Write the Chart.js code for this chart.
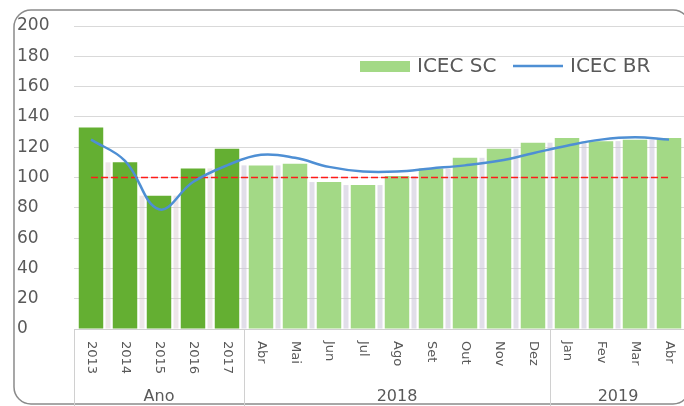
<!DOCTYPE html>
<html>
<head>
<meta charset="utf-8">
<script src="https://cdn.jsdelivr.net/npm/chart.js@4.4.1/dist/chart.umd.min.js"></script>
<style>
  html, body { margin: 0; padding: 0; background: #fff; overflow: hidden; }
  #wrap { width: 700px; height: 406px; position: relative; }
</style>
</head>
<body>
<div id="wrap"><canvas id="chart"></canvas></div>
<script>
// categories (first level) and their groups (second level)
const categorias = ["2013", "2014", "2015", "2016", "2017",
  "Abr", "Mai", "Jun", "Jul", "Ago", "Set", "Out", "Nov", "Dez",
  "Jan", "Fev", "Mar", "Abr"];
const grupos = ["Ano", "Ano", "Ano", "Ano", "Ano",
  "2018", "2018", "2018", "2018", "2018", "2018", "2018", "2018", "2018",
  "2019", "2019", "2019", "2019"];

const icecSC = [133, 110, 88, 106, 119, 108, 109, 97, 95, 101, 106, 113, 119, 123, 126, 124, 125, 126];
const icecBR = [125, 111, 79, 97, 108, 115, 113, 107, 104, 104, 106, 108, 111, 116, 121, 125, 126.5, 125];
const referencia = [100, 100, 100, 100, 100, 100, 100, 100, 100, 100, 100, 100, 100, 100, 100, 100, 100, 100];

const corAno = "#64AF32";
const corMes = "#A3D986";
const corBR = "#4E8FD4";
const corRef = "#FF1A1A";
const corTexto = "#595959";
const fonte = "DejaVu Sans";

// rounded frame around the whole chart
const moldura = {
  id: "moldura",
  beforeDraw(chart) {
    const ctx = chart.ctx;
    ctx.save();
    ctx.fillStyle = "#fff";
    ctx.fillRect(0, 0, chart.width, chart.height);
    ctx.strokeStyle = "#8a8a8a";
    ctx.lineWidth = 1.5;
    ctx.beginPath();
    ctx.roundRect(14, 10, 676, 394, 17);
    ctx.stroke();
    ctx.restore();
  }
};

// soft grey strip between neighbouring bars
const vaos = {
  id: "vaos",
  beforeDatasetsDraw(chart) {
    const meta = chart.getDatasetMeta(0);
    const ctx = chart.ctx;
    ctx.save();
    for (let i = 0; i < meta.data.length - 1; i++) {
      const a = meta.data[i], b = meta.data[i + 1];
      const x = (a.x + b.x) / 2;
      const topo = Math.max(a.y, b.y);
      ctx.fillStyle = grupos[i + 1] === "Ano" ? "rgba(215,200,205,0.45)" : "rgba(200,195,215,0.55)";
      ctx.fillRect(x - 2.5, topo, 5, a.base - topo);
    }
    ctx.restore();
  }
};

// two-level category axis drawn under the plot
const eixoX = {
  id: "eixoX",
  afterDraw(chart) {
    const ctx = chart.ctx;
    const xs = chart.scales.x;
    const area = chart.chartArea;
    const meio = (xs.getPixelForValue(1) - xs.getPixelForValue(0)) / 2;
    ctx.save();
    ctx.strokeStyle = "#d0d0d0";
    ctx.lineWidth = 1;
    ctx.beginPath();
    ctx.moveTo(area.left, area.bottom + 0.5);
    ctx.lineTo(area.right, area.bottom + 0.5);
    ctx.stroke();

    // month / year labels, reading downward
    ctx.fillStyle = corTexto;
    ctx.font = "13px '" + fonte + "'";
    ctx.textAlign = "left";
    ctx.textBaseline = "middle";
    categorias.forEach((c, i) => {
      const x = xs.getPixelForValue(i);
      ctx.save();
      ctx.translate(x, area.bottom + 12);
      ctx.rotate(Math.PI / 2);
      ctx.fillText(c, 0, 0);
      ctx.restore();
    });

    // group separators and group names
    ctx.font = "16px '" + fonte + "'";
    ctx.textAlign = "center";
    let inicio = 0;
    for (let i = 1; i <= grupos.length; i++) {
      if (i === grupos.length || grupos[i] !== grupos[inicio]) {
        const x0 = xs.getPixelForValue(inicio) - meio;
        const x1 = xs.getPixelForValue(i - 1) + meio;
        ctx.beginPath();
        ctx.moveTo(Math.round(x0) + 0.5, area.bottom);
        ctx.lineTo(Math.round(x0) + 0.5, chart.height);
        ctx.moveTo(Math.round(x1) + 0.5, area.bottom);
        ctx.lineTo(Math.round(x1) + 0.5, chart.height);
        ctx.stroke();
        ctx.fillText(grupos[inicio], (x0 + x1) / 2, 397);
        inicio = i;
      }
    }
    ctx.restore();
  }
};

// legend inside the plot area
const legenda = {
  id: "legenda",
  afterDraw(chart) {
    const ctx = chart.ctx;
    const ds = chart.data.datasets;
    ctx.save();
    ctx.font = "20px '" + fonte + "'";
    ctx.textBaseline = "middle";
    ctx.textAlign = "left";
    ctx.fillStyle = corMes;
    ctx.fillRect(360, 61, 50, 11);
    ctx.fillStyle = corTexto;
    ctx.fillText(ds[0].label, 417, 67);
    ctx.strokeStyle = ds[1].borderColor;
    ctx.lineWidth = 2.5;
    ctx.beginPath();
    ctx.moveTo(513, 66);
    ctx.lineTo(563, 66);
    ctx.stroke();
    ctx.fillText(ds[1].label, 570, 67);
    ctx.restore();
  }
};

new Chart(document.getElementById("chart"), {
  type: "bar",
  data: {
    labels: categorias,
    datasets: [
      {
        label: "ICEC SC",
        data: icecSC,
        backgroundColor: grupos.map(g => g === "Ano" ? corAno : corMes),
        barPercentage: 0.72,
        categoryPercentage: 1.0,
        order: 2
      },
      {
        type: "line",
        label: "ICEC BR",
        data: icecBR,
        borderColor: corBR,
        borderWidth: 2.5,
        pointRadius: 0,
        tension: 0.4,
        fill: false,
        order: 0
      },
      {
        type: "line",
        label: "Referência",
        data: referencia,
        borderColor: corRef,
        borderWidth: 1.5,
        borderDash: [7, 3],
        pointRadius: 0,
        fill: false,
        order: 1
      }
    ]
  },
  options: {
    responsive: true,
    maintainAspectRatio: false,
    animation: false,
    layout: { padding: { left: 17, top: 26, right: 14, bottom: 0 } },
    plugins: {
      legend: { display: false },
      tooltip: { enabled: false }
    },
    scales: {
      x: {
        ticks: { display: false },
        grid: { display: false },
        border: { display: false },
        afterFit: s => { s.height = 77; }
      },
      y: {
        min: 0,
        max: 200,
        ticks: {
          stepSize: 20,
          color: corTexto,
          crossAlign: "far",
          font: { family: fonte, size: 17 }
        },
        grid: { color: "#d9d9d9", drawTicks: false },
        border: { display: false },
        afterFit: s => { s.width = 57; }
      }
    }
  },
  plugins: [moldura, vaos, eixoX, legenda]
});
</script>
</body>
</html>
